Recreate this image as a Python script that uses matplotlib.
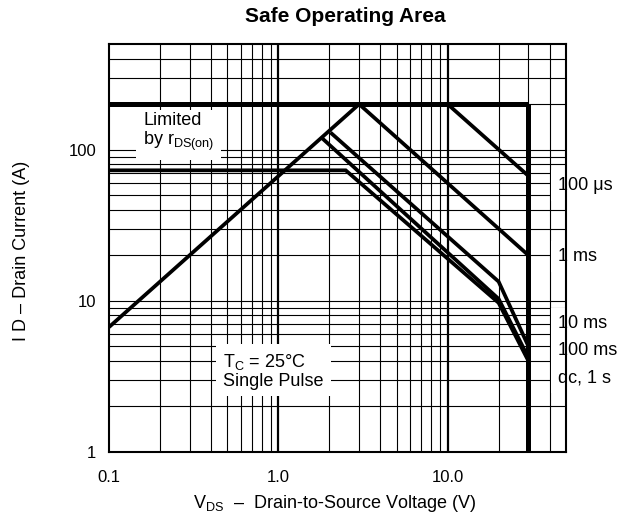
import matplotlib
matplotlib.use("Agg")
import matplotlib.pyplot as plt

plt.rcParams['font.family'] = ['Liberation Sans', 'DejaVu Sans']
plt.rcParams['mathtext.fontset'] = 'custom'
plt.rcParams['mathtext.rm'] = 'Liberation Sans'
plt.rcParams['mathtext.it'] = 'Liberation Sans'

# ---- data (V in volts, I in amps) ----
v_rds = [0.1, 3.0]
i_rds = [6.7, 200]
v_limit = [0.1, 30]
i_limit = [200, 200]
v_vmax = [30, 30]
i_vmax = [200, 1]
v_100us = [10, 30]
i_100us = [200, 67]
v_1ms = [3, 30]
i_1ms = [200, 20]
v_10ms = [2.03, 20, 30]
i_10ms = [130, 13.4, 5.0]
v_100ms = [1.8, 20, 30]
i_100ms = [120, 10.3, 4.2]
v_dc = [0.1, 2.5, 20, 30]
i_dc = [73, 73, 9.7, 4.0]

x_ticks = [0.1, 1.0, 10.0]
x_ticklabels = ["0.1", "1.0", "10.0"]
y_ticks = [1, 10, 100]
y_ticklabels = ["1", "10", "100"]
x_minor = [0.2, 0.3, 0.4, 0.5, 0.6, 0.7, 0.8, 0.9,
           2, 3, 4, 5, 6, 7, 8, 9, 20, 30, 40]
y_minor = [2, 3, 4, 5, 6, 7, 8, 9,
           20, 30, 40, 50, 60, 70, 80, 90, 200, 300, 400]

curve_labels = ["100 \u03bcs", "1 ms", "10 ms", "100 ms", "dc, 1 s"]
label_y = [58, 19.6, 7.1, 4.7, 3.1]

fig = plt.figure(figsize=(6.27, 5.17), dpi=100)
ax = fig.add_axes([109/627, 1-452/517, (566-109)/627, (452-44)/517])
ax.set_xscale('log')
ax.set_yscale('log')
ax.set_xlim(0.1, 50)
ax.set_ylim(1, 500)

# grid
for xv in x_minor:
    ax.axvline(xv, color='black', lw=0.8, zorder=1)
for xv in [1.0, 10.0]:
    ax.axvline(xv, color='black', lw=1.6, zorder=1)
for yv in y_minor:
    ax.axhline(yv, color='black', lw=0.8, zorder=1)
for yv in [10, 100]:
    ax.axhline(yv, color='black', lw=0.8, zorder=1)

lw = 2.7
kw = dict(color='black', solid_capstyle='butt', solid_joinstyle='miter', zorder=4)
ax.plot(v_rds, i_rds, lw=lw, **kw)
ax.plot(v_limit, i_limit, lw=3.6, **kw)
ax.plot(v_vmax, i_vmax, lw=3.6, **kw)
ax.plot(v_100us, i_100us, lw=lw, **kw)
ax.plot(v_1ms, i_1ms, lw=lw, **kw)
ax.plot(v_10ms, i_10ms, lw=lw, **kw)
ax.plot(v_100ms, i_100ms, lw=lw, **kw)
ax.plot(v_dc, i_dc, lw=lw, **kw)

ax.set_xticks(x_ticks)
ax.set_xticklabels(x_ticklabels)
ax.set_yticks(y_ticks)
ax.set_yticklabels(y_ticklabels)
ax.minorticks_off()
ax.tick_params(axis='both', length=0, labelsize=12)
ax.tick_params(axis='x', pad=13)
ax.tick_params(axis='y', pad=9)
for s in ax.spines.values():
    s.set_linewidth(1.5)
    s.set_zorder(5)

ax.text(0.159, 129, "Limited\nby r$_{\\mathrm{DS(on)}}$", fontsize=13,
        ha='left', va='center', bbox=dict(facecolor='white', edgecolor='none', pad=5),
        zorder=3, linespacing=1.05)
ax.text(0.473, 3.45, "T$_{\\mathrm{C}}$ = 25\u00b0C\nSingle Pulse", fontsize=13,
        ha='left', va='center', bbox=dict(facecolor='white', edgecolor='none', pad=5),
        zorder=3, linespacing=1.05)
for lab, yv in zip(curve_labels, label_y):
    ax.text(45, yv, lab, fontsize=13, ha='left', va='center',
            bbox=dict(facecolor='white', edgecolor='none', pad=5),
            zorder=3, clip_on=False)

fig.text(345/627, 1-17/517, "Safe Operating Area", fontsize=15, fontweight='bold',
         ha='center', va='center')
fig.text(335/627, 1-503/517, "V$_{\\mathrm{DS}}$  \u2013  Drain-to-Source Voltage (V)",
         fontsize=13, ha='center', va='center')
fig.text(22/627, 1-251/517, "I D \u2013 Drain Current (A)", fontsize=13,
         ha='center', va='center', rotation=90)

fig.savefig("out.png", dpi=100)
